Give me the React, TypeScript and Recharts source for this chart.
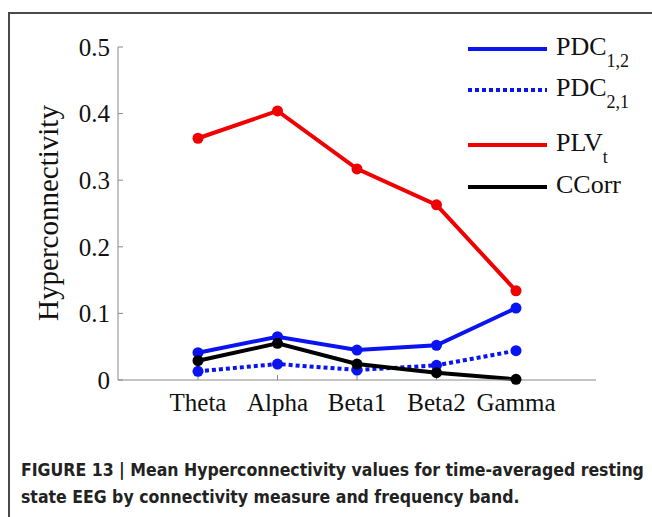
import React from 'react';
import { LineChart, Line, XAxis, YAxis, Legend } from 'recharts';

// frequency bands on the x axis
const bands = ['Theta', 'Alpha', 'Beta1', 'Beta2', 'Gamma'];

// mean hyperconnectivity per band
const pdc12 = [0.041, 0.065, 0.045, 0.052, 0.108];
const pdc21 = [0.013, 0.024, 0.015, 0.022, 0.044];
const plvT = [0.363, 0.404, 0.317, 0.263, 0.134];
const cCorr = [0.029, 0.055, 0.024, 0.011, 0.001];

const yTicks = [0, 0.1, 0.2, 0.3, 0.4, 0.5];

const seriesKeys = ['pdc12', 'pdc21', 'plv', 'ccorr'];
const seriesNames = ['PDC', 'PDC', 'PLV', 'CCorr'];
const seriesSubs = ['1,2', '2,1', 't', ''];
const seriesColors = ['#0a14f0', '#0a14f0', '#f00000', '#000000'];
const seriesDashes = ['', '4 3', '', ''];

const data = bands.map((band, i) => ({
  band,
  pdc12: pdc12[i],
  pdc21: pdc21[i],
  plv: plvT[i],
  ccorr: cCorr[i],
}));

const serif = '"Liberation Serif", "Times New Roman", serif';

// legend row centres, relative to the legend box
const legendRows = [29, 70, 125, 167];

const LegendBox = () => (
  <svg width={192} height={185} style={{ display: 'block' }}>
    {seriesKeys.map((k, i) => (
      <g key={k}>
        <line
          x1={8}
          x2={87}
          y1={legendRows[i]}
          y2={legendRows[i]}
          stroke={seriesColors[i]}
          strokeWidth={4}
          strokeDasharray={seriesDashes[i] || undefined}
        />
        <text
          x={96}
          y={legendRows[i] + 6}
          fontFamily={serif}
          fontSize={26}
          fill="#111"
        >
          {seriesNames[i]}
          {seriesSubs[i] && (
            <tspan dy={12} fontSize={18}>
              {seriesSubs[i]}
            </tspan>
          )}
        </text>
      </g>
    ))}
  </svg>
);

const makeDot = (color: string) => (p: any) => (
  <circle key={`${color}-${p.index}`} cx={p.cx} cy={p.cy} r={5.5} fill={color} />
);

export default function App() {
  return (
    <div
      style={{
        position: 'absolute',
        left: 0,
        top: 0,
        width: 652,
        height: 517,
        background: '#fff',
        overflow: 'hidden',
      }}
    >
      <div
        style={{
          position: 'absolute',
          left: 8,
          top: 12,
          width: 700,
          height: 600,
          borderTop: '2px solid #4a4a4a',
          borderLeft: '2px solid #4a4a4a',
        }}
      />
      <div style={{ position: 'absolute', left: 0, top: 0 }}>
        <LineChart
          width={652}
          height={430}
          data={data}
          margin={{ top: 47, right: 56, bottom: 10, left: 58 }}
        >
          <XAxis
            dataKey="band"
            height={40}
            padding={{ left: 80, right: 80 }}
            stroke="#8a8a8a"
            tickSize={-5}
            tickMargin={18}
            tick={{ fill: '#111', fontFamily: serif, fontSize: 25 }}
            interval={0}
          />
          <YAxis
            width={60}
            domain={[0, 0.5]}
            ticks={yTicks}
            stroke="#8a8a8a"
            tickSize={-5}
            tickMargin={13}
            tickFormatter={(v: number) => (v === 0 ? '0' : v.toFixed(1))}
            tick={{ fill: '#111', fontFamily: serif, fontSize: 25 }}
          />
          <Legend
            layout="vertical"
            align="center"
            verticalAlign="middle"
            wrapperStyle={{ left: 460, top: 20, width: 192 }}
            content={() => <LegendBox />}
          />
          {seriesKeys.map((k, i) => (
            <Line
              key={k}
              dataKey={k}
              name={seriesNames[i] + seriesSubs[i]}
              type="linear"
              stroke={seriesColors[i]}
              strokeWidth={4}
              strokeDasharray={seriesDashes[i] || undefined}
              dot={makeDot(seriesColors[i])}
              activeDot={false}
              isAnimationActive={false}
            />
          ))}
        </LineChart>
      </div>
      <div
        style={{
          position: 'absolute',
          left: 48,
          top: 213,
          transform: 'translate(-50%, -50%) rotate(-90deg)',
          fontFamily: serif,
          fontSize: 29,
          color: '#111',
          whiteSpace: 'nowrap',
        }}
      >
        Hyperconnectivity
      </div>
      <div
        style={{
          position: 'absolute',
          left: 21,
          top: 457,
          width: 640,
          fontFamily: '"Liberation Sans Narrow", "DejaVu Sans Condensed", Arial, sans-serif',
          fontWeight: 'bold',
          fontSize: 17.5,
          lineHeight: '27px',
          color: '#222',
          whiteSpace: 'nowrap',
        }}
      >
        FIGURE 13 | Mean Hyperconnectivity values for time-averaged resting
        <br />
        state EEG by connectivity measure and frequency band.
      </div>
    </div>
  );
}
